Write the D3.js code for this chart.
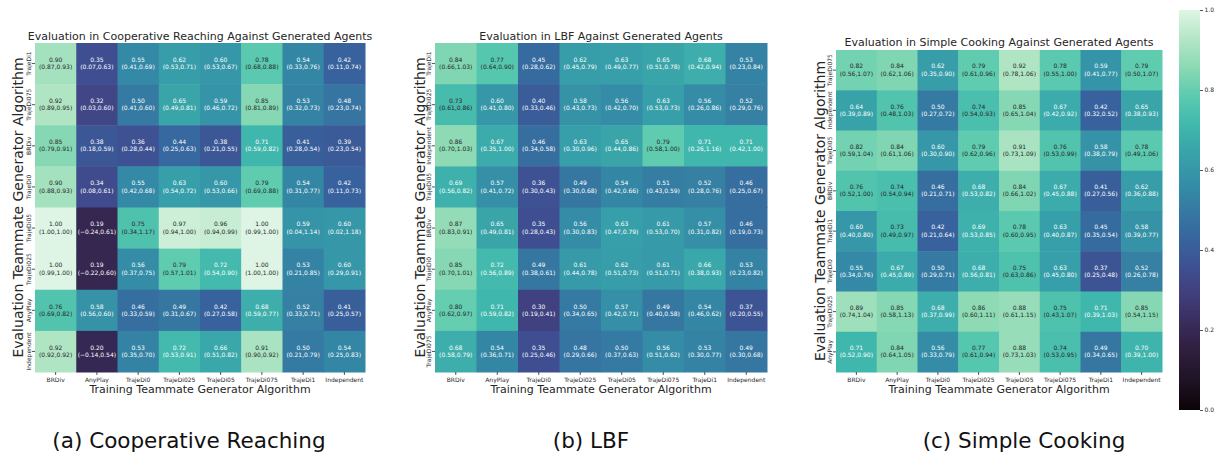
<!DOCTYPE html>
<html>
<head>
<meta charset="utf-8">
<script src="https://cdn.jsdelivr.net/npm/d3@7"></script>
<style>
  html, body { margin: 0; padding: 0; background: #fff; }
  svg { display: block; font-family: "DejaVu Sans", sans-serif; }
</style>
</head>
<body>
<svg id="fig" width="1215" height="454"></svg>
<script>
// Training teammate generators (columns, shared by all three environments)
const trainAlgos = ["BRDiv", "AnyPlay", "TrajeDi0", "TrajeDi025", "TrajeDi05", "TrajeDi075", "TrajeDi1", "Independent"];

// ---- Cooperative Reaching ----
const reachingRows = ["TrajeDi1", "TrajeDi075", "BRDiv", "TrajeDi0", "TrajeDi05", "TrajeDi025", "AnyPlay", "Independent"];
const reachingMean = [
  [0.90, 0.35, 0.55, 0.62, 0.60, 0.78, 0.54, 0.42],
  [0.92, 0.32, 0.50, 0.65, 0.59, 0.85, 0.53, 0.48],
  [0.85, 0.38, 0.36, 0.44, 0.38, 0.71, 0.41, 0.39],
  [0.90, 0.34, 0.55, 0.63, 0.60, 0.79, 0.54, 0.42],
  [1.00, 0.19, 0.75, 0.97, 0.96, 1.00, 0.59, 0.60],
  [1.00, 0.19, 0.56, 0.79, 0.72, 1.00, 0.53, 0.60],
  [0.76, 0.58, 0.46, 0.49, 0.42, 0.68, 0.52, 0.41],
  [0.92, 0.20, 0.53, 0.72, 0.66, 0.91, 0.50, 0.54]
];
const reachingLow = [
  [0.87, 0.07, 0.41, 0.53, 0.53, 0.68, 0.33, 0.11],
  [0.89, 0.03, 0.41, 0.49, 0.46, 0.81, 0.32, 0.23],
  [0.79, 0.18, 0.28, 0.25, 0.21, 0.59, 0.28, 0.23],
  [0.88, 0.08, 0.42, 0.54, 0.53, 0.69, 0.31, 0.11],
  [1.00, -0.24, 0.34, 0.94, 0.94, 0.99, 0.04, 0.02],
  [0.99, -0.22, 0.37, 0.57, 0.54, 1.00, 0.21, 0.29],
  [0.69, 0.56, 0.33, 0.31, 0.27, 0.59, 0.33, 0.25],
  [0.92, -0.14, 0.35, 0.53, 0.51, 0.90, 0.21, 0.25]
];
const reachingHigh = [
  [0.93, 0.63, 0.69, 0.71, 0.67, 0.88, 0.76, 0.74],
  [0.95, 0.60, 0.60, 0.81, 0.72, 0.89, 0.73, 0.74],
  [0.91, 0.59, 0.44, 0.63, 0.55, 0.82, 0.54, 0.54],
  [0.93, 0.61, 0.68, 0.72, 0.66, 0.88, 0.77, 0.73],
  [1.00, 0.61, 1.17, 1.00, 0.99, 1.00, 1.14, 1.18],
  [1.00, 0.60, 0.75, 1.01, 0.90, 1.00, 0.85, 0.91],
  [0.82, 0.60, 0.59, 0.67, 0.58, 0.77, 0.71, 0.57],
  [0.92, 0.54, 0.70, 0.91, 0.82, 0.92, 0.79, 0.83]
];

// ---- LBF ----
const lbfRows = ["TrajeDi1", "TrajeDi025", "Independent", "TrajeDi05", "BRDiv", "TrajeDi0", "AnyPlay", "TrajeDi075"];
const lbfMean = [
  [0.84, 0.77, 0.45, 0.62, 0.63, 0.65, 0.68, 0.53],
  [0.73, 0.60, 0.40, 0.58, 0.56, 0.63, 0.56, 0.52],
  [0.86, 0.67, 0.46, 0.63, 0.65, 0.79, 0.71, 0.71],
  [0.69, 0.57, 0.36, 0.49, 0.54, 0.51, 0.52, 0.46],
  [0.87, 0.65, 0.35, 0.56, 0.63, 0.61, 0.57, 0.46],
  [0.85, 0.72, 0.49, 0.61, 0.62, 0.61, 0.66, 0.53],
  [0.80, 0.71, 0.30, 0.50, 0.57, 0.49, 0.54, 0.37],
  [0.68, 0.54, 0.35, 0.48, 0.50, 0.56, 0.53, 0.49]
];
const lbfLow = [
  [0.66, 0.64, 0.28, 0.45, 0.49, 0.51, 0.42, 0.23],
  [0.61, 0.41, 0.33, 0.43, 0.42, 0.53, 0.26, 0.29],
  [0.70, 0.35, 0.34, 0.30, 0.44, 0.58, 0.26, 0.42],
  [0.56, 0.41, 0.30, 0.30, 0.42, 0.43, 0.28, 0.25],
  [0.83, 0.49, 0.28, 0.30, 0.47, 0.53, 0.31, 0.19],
  [0.70, 0.56, 0.38, 0.44, 0.51, 0.51, 0.38, 0.23],
  [0.62, 0.59, 0.19, 0.34, 0.42, 0.40, 0.46, 0.20],
  [0.58, 0.36, 0.25, 0.29, 0.37, 0.51, 0.30, 0.30]
];
const lbfHigh = [
  [1.03, 0.90, 0.62, 0.79, 0.77, 0.78, 0.94, 0.84],
  [0.86, 0.80, 0.46, 0.73, 0.70, 0.73, 0.86, 0.76],
  [1.03, 1.00, 0.58, 0.96, 0.86, 1.00, 1.16, 1.00],
  [0.82, 0.72, 0.43, 0.68, 0.66, 0.59, 0.76, 0.67],
  [0.91, 0.81, 0.43, 0.83, 0.79, 0.70, 0.82, 0.73],
  [1.01, 0.89, 0.61, 0.78, 0.73, 0.71, 0.93, 0.82],
  [0.97, 0.82, 0.41, 0.65, 0.71, 0.58, 0.62, 0.55],
  [0.79, 0.71, 0.46, 0.66, 0.63, 0.62, 0.77, 0.68]
];

// ---- Simple Cooking ----
const cookingRows = ["TrajeDi075", "Independent", "TrajeDi05", "BRDiv", "TrajeDi1", "TrajeDi0", "TrajeDi025", "AnyPlay"];
const cookingMean = [
  [0.82, 0.84, 0.62, 0.79, 0.92, 0.78, 0.59, 0.79],
  [0.64, 0.76, 0.50, 0.74, 0.85, 0.67, 0.42, 0.65],
  [0.82, 0.84, 0.60, 0.79, 0.91, 0.76, 0.58, 0.78],
  [0.76, 0.74, 0.46, 0.68, 0.84, 0.67, 0.41, 0.62],
  [0.60, 0.73, 0.42, 0.69, 0.78, 0.63, 0.45, 0.58],
  [0.55, 0.67, 0.50, 0.68, 0.75, 0.63, 0.37, 0.52],
  [0.89, 0.85, 0.68, 0.86, 0.88, 0.75, 0.71, 0.85],
  [0.71, 0.84, 0.56, 0.77, 0.88, 0.74, 0.49, 0.70]
];
const cookingLow = [
  [0.56, 0.62, 0.35, 0.61, 0.78, 0.55, 0.41, 0.50],
  [0.39, 0.48, 0.27, 0.54, 0.65, 0.42, 0.32, 0.38],
  [0.59, 0.61, 0.30, 0.62, 0.73, 0.53, 0.38, 0.49],
  [0.52, 0.54, 0.21, 0.53, 0.66, 0.45, 0.27, 0.36],
  [0.40, 0.49, 0.21, 0.53, 0.60, 0.40, 0.35, 0.39],
  [0.34, 0.45, 0.29, 0.56, 0.63, 0.45, 0.25, 0.26],
  [0.74, 0.58, 0.37, 0.60, 0.61, 0.43, 0.39, 0.54],
  [0.52, 0.64, 0.33, 0.61, 0.73, 0.53, 0.34, 0.39]
];
const cookingHigh = [
  [1.07, 1.06, 0.90, 0.96, 1.06, 1.00, 0.77, 1.07],
  [0.89, 1.03, 0.72, 0.93, 1.04, 0.92, 0.52, 0.93],
  [1.04, 1.06, 0.90, 0.96, 1.09, 0.99, 0.79, 1.06],
  [1.00, 0.94, 0.71, 0.82, 1.02, 0.88, 0.56, 0.88],
  [0.80, 0.97, 0.64, 0.85, 0.95, 0.87, 0.54, 0.77],
  [0.76, 0.89, 0.71, 0.81, 0.86, 0.80, 0.48, 0.78],
  [1.04, 1.13, 0.99, 1.11, 1.15, 1.07, 1.03, 1.15],
  [0.90, 1.05, 0.79, 0.94, 1.03, 0.95, 0.65, 1.00]
];

const colorbarTicks = [0, 0.2, 0.4, 0.6, 0.8, 1.0];

// "mako"-style sequential colormap, dark (0) to pale mint (1)
const makoStops = [0, 0.071, 0.143, 0.214, 0.286, 0.357, 0.429, 0.5, 0.571, 0.643, 0.714, 0.786, 0.857, 0.929, 1];
const makoColors = ["#0b0405", "#1e1224", "#2e1e3b", "#382b5a", "#413d7b", "#3e5092", "#37659e", "#357aa2",
                    "#348fa7", "#38a3a9", "#41b8ad", "#5ccbaf", "#8bd9b4", "#b5e7c6", "#def5e5"];
const color = d3.scaleLinear().domain(makoStops).range(makoColors).interpolate(d3.interpolateRgb).clamp(true);

const darkTextFrom = 0.725;
const fmt = d3.format(".2f");

const panels = [
  { title: "Evaluation in Cooperative Reaching Against Generated Agents", caption: "(a) Cooperative Reaching",
    rows: reachingRows, mean: reachingMean, low: reachingLow, high: reachingHigh,
    x0: 35, x1: 365, y0: 43, y1: 372, titleY: 40, yTitleX: 23, captionX: 189 },
  { title: "Evaluation in LBF Against Generated Agents", caption: "(b) LBF",
    rows: lbfRows, mean: lbfMean, low: lbfLow, high: lbfHigh,
    x0: 435, x1: 767, y0: 43, y1: 372, titleY: 40, yTitleX: 425, captionX: 591 },
  { title: "Evaluation in Simple Cooking Against Generated Agents", caption: "(c) Simple Cooking",
    rows: cookingRows, mean: cookingMean, low: cookingLow, high: cookingHigh,
    x0: 836, x1: 1162, y0: 50, y1: 372, titleY: 46, yTitleX: 825, captionX: 1024 }
];

const svg = d3.select("#fig");
const ink = "#262626";

panels.forEach(p => {
  const x = d3.scaleBand().domain(trainAlgos).range([p.x0, p.x1]);
  const y = d3.scaleBand().domain(p.rows).range([p.y0, p.y1]);
  const g = svg.append("g");

  const cells = [];
  p.rows.forEach((r, i) => trainAlgos.forEach((c, j) => {
    cells.push({ row: r, col: c, v: p.mean[i][j], lo: p.low[i][j], hi: p.high[i][j] });
  }));

  g.selectAll("rect.cell").data(cells).join("rect")
    .attr("class", "cell")
    .attr("x", d => x(d.col)).attr("y", d => y(d.row))
    .attr("width", x.bandwidth() + 0.5).attr("height", y.bandwidth() + 0.5)
    .attr("fill", d => color(d.v));

  const labels = g.selectAll("g.annot").data(cells).join("g")
    .attr("class", "annot")
    .attr("transform", d => `translate(${x(d.col) + x.bandwidth() / 2},${y(d.row) + y.bandwidth() / 2})`)
    .attr("text-anchor", "middle")
    .attr("font-size", 6)
    .attr("fill", d => d.v >= darkTextFrom ? ink : "#ffffff");
  labels.append("text").attr("y", -1.8).text(d => fmt(d.v));
  labels.append("text").attr("y", 5.6).text(d => `(${fmt(d.lo)},${fmt(d.hi)})`);

  // x axis
  const ax = g.append("g").attr("transform", `translate(0,${p.y1})`)
    .call(d3.axisBottom(x).tickSize(3).tickPadding(3));
  ax.select(".domain").remove();
  ax.selectAll("line").attr("stroke", ink).attr("stroke-width", 0.8);
  ax.selectAll("text").attr("font-size", 6).attr("fill", ink).attr("font-family", "DejaVu Sans");

  // y axis, labels turned vertical
  const ay = g.append("g").attr("transform", `translate(${p.x0},0)`)
    .call(d3.axisLeft(y).tickSize(3).tickPadding(1));
  ay.select(".domain").remove();
  ay.selectAll("line").attr("stroke", ink).attr("stroke-width", 0.8);
  ay.selectAll("text")
    .attr("transform", "rotate(-90)")
    .attr("x", 0).attr("y", -4).attr("dy", 0)
    .attr("text-anchor", "middle")
    .attr("font-size", 6).attr("fill", ink).attr("font-family", "DejaVu Sans");

  // titles
  const cx = (p.x0 + p.x1) / 2, cy = (p.y0 + p.y1) / 2;
  g.append("text").attr("x", cx).attr("y", p.titleY).attr("text-anchor", "middle")
    .attr("font-size", 11).attr("fill", ink).text(p.title);
  g.append("text").attr("x", cx).attr("y", p.y1 + 21).attr("text-anchor", "middle")
    .attr("font-size", 11).attr("fill", ink).text("Training Teammate Generator Algorithm");
  g.append("text").attr("transform", `translate(${p.yTitleX},${cy}) rotate(-90)`)
    .attr("text-anchor", "middle").attr("font-size", 14).attr("fill", ink)
    .text("Evaluation Teammate Generator Algorithm");
  g.append("text").attr("x", p.captionX).attr("y", 448).attr("text-anchor", "middle")
    .attr("font-size", 21.5).attr("fill", "#111").text(p.caption);
});

// shared colorbar
const cb = { x: 1179, w: 21, top: 10, bottom: 410 };
const cbScale = d3.scaleLinear().domain([0, 1]).range([cb.bottom, cb.top]);
const grad = svg.append("defs").append("linearGradient")
  .attr("id", "cbGrad").attr("x1", 0).attr("y1", 1).attr("x2", 0).attr("y2", 0);
grad.selectAll("stop").data(d3.range(0, 1.0001, 0.02)).join("stop")
  .attr("offset", d => d).attr("stop-color", d => color(d));
svg.append("rect").attr("x", cb.x).attr("y", cb.top).attr("width", cb.w)
  .attr("height", cb.bottom - cb.top).attr("fill", "url(#cbGrad)");
const acb = svg.append("g").attr("transform", `translate(${cb.x + cb.w},0)`)
  .call(d3.axisRight(cbScale).tickValues(colorbarTicks).tickFormat(d3.format(".1f")).tickSize(3).tickPadding(1.5));
acb.select(".domain").remove();
acb.selectAll("line").attr("stroke", ink).attr("stroke-width", 0.8);
acb.selectAll("text").attr("font-size", 6).attr("fill", ink).attr("font-family", "DejaVu Sans");
</script>
</body>
</html>
